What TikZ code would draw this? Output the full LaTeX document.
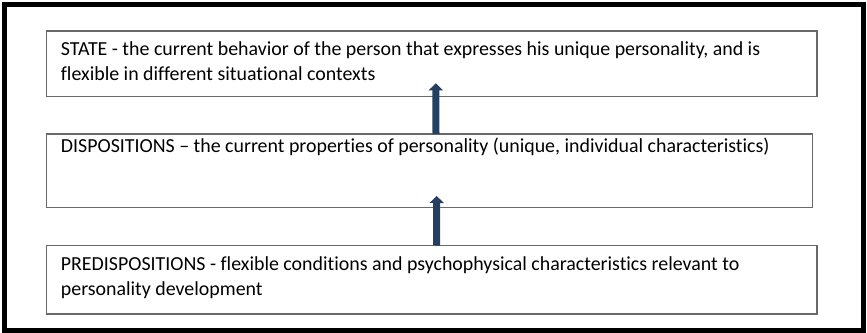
\documentclass[tikz,border=0pt]{standalone}
\usepackage{fontspec}
\setmainfont[Ligatures=CommonOff]{Carlito}
\usetikzlibrary{arrows.meta}
\definecolor{boxline}{RGB}{105,105,105}
\definecolor{navy}{RGB}{36,63,96}
\tikzset{
  frame/.style={draw=black,line width=5pt},
  box/.style={draw=boxline,line width=1.2pt},
  label/.style={anchor=base west,inner sep=0pt,align=left,font=\fontsize{19.9}{24.5}\selectfont},
  uparrow/.style={draw=navy,line width=7pt,-{Triangle[width=14pt,length=7pt]}}
}
\begin{document}
\begin{tikzpicture}[x=1pt,y=-1pt]
\useasboundingbox (0,0) rectangle (867,332);
\draw[frame] (4.5,4.5) rectangle (863,330.5);
\draw[box] (46.7,31) rectangle (817,96.7);
\draw[box] (46.7,134) rectangle (812.7,207.3);
\coordinate (b2top) at (436,134);
\draw[box] (46.7,245.5) rectangle (817,314);
\coordinate (b3top) at (436.5,245.5);
\coordinate (tip1) at (435.8,83.3);
\coordinate (tip2) at (436.7,196);
\node[label] (t1) at (60.7,80.2) {STATE - the current behavior of the person that expresses his unique personality, and is\\flexible in different situational contexts};
\node[label] (t2) at (60.7,152) {DISPOSITIONS -- the current properties of personality (unique, individual characteristics)};
\node[label] (t3) at (60.7,295.2) {PREDISPOSITIONS - flexible conditions and psychophysical characteristics relevant to\\personality development};
\draw[uparrow] (b2top) -- (tip1);
\draw[uparrow] (b3top) -- (tip2);
\end{tikzpicture}
\end{document}
